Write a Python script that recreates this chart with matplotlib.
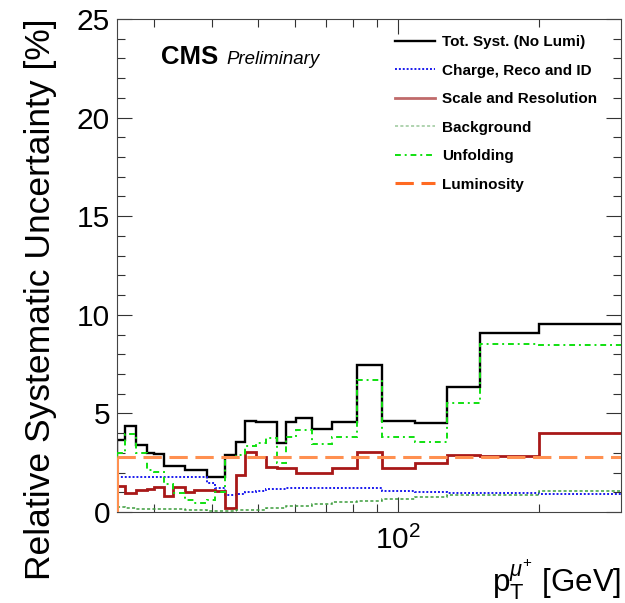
import matplotlib
matplotlib.use("Agg")
import matplotlib.pyplot as plt
from matplotlib.lines import Line2D
from matplotlib.ticker import FixedLocator, MultipleLocator, NullFormatter, FixedFormatter

plt.rcParams['font.family'] = ['Liberation Sans', 'DejaVu Sans']
plt.rcParams['mathtext.fontset'] = 'custom'
plt.rcParams['mathtext.rm'] = 'Liberation Sans'
plt.rcParams['mathtext.it'] = 'Liberation Sans:italic'
plt.rcParams['mathtext.bf'] = 'Liberation Sans:bold'

# Muon pT bin edges [GeV]
pt_edges = [25, 26, 27.5, 29, 30, 31.5, 33, 35, 36.5, 39, 40.5, 42.5, 45, 47,
            49.5, 52, 55, 57.5, 60.5, 65.5, 72, 81.5, 92.5, 108.5, 127, 150,
            200, 300]

# Relative systematic uncertainties per bin [%]
tot_syst = [3.65, 4.38, 3.40, 2.97, 2.95, 2.33, 2.33, 2.13, 2.13, 1.80, 1.80,
            2.89, 3.57, 4.63, 4.55, 4.55, 3.51, 4.55, 4.75, 4.19, 4.58, 7.45,
            4.61, 4.53, 6.35, 9.06, 9.52]
charge_reco_id = [1.75, 1.75, 1.75, 1.75, 1.75, 1.75, 1.75, 1.75, 1.75, 1.45,
                  1.20, 0.85, 0.90, 1.00, 1.08, 1.15, 1.18, 1.20, 1.22, 1.22,
                  1.22, 1.20, 1.08, 1.03, 0.98, 0.95, 0.90]
scale_resolution = [1.32, 0.98, 1.10, 1.15, 1.28, 0.80, 1.25, 1.03, 1.12, 1.12,
                    1.05, 0.22, 1.90, 3.06, 2.77, 2.27, 2.21, 2.21, 2.00, 2.00,
                    2.25, 3.03, 2.22, 2.47, 2.89, 2.84, 4.00]
background = [0.24, 0.22, 0.16, 0.14, 0.14, 0.14, 0.14, 0.12, 0.10, 0.07, 0.07,
              0.07, 0.08, 0.10, 0.12, 0.18, 0.20, 0.28, 0.30, 0.40, 0.50, 0.58,
              0.66, 0.78, 0.86, 0.86, 1.05]
unfolding = [3.00, 3.95, 3.00, 2.13, 2.05, 1.40, 0.95, 0.60, 0.45, 0.60, 1.03,
             2.80, 2.90, 3.35, 3.50, 3.75, 2.46, 3.80, 4.15, 3.47, 3.80, 6.70,
             3.82, 3.57, 5.55, 8.50, 8.47]
luminosity = [2.8] * (len(pt_edges) - 1)

labels = ["Tot. Syst. (No Lumi)", "Charge, Reco and ID", "Scale and Resolution",
          "Background", "Unfolding", "Luminosity"]

fig = plt.figure(figsize=(6.25, 6.03), dpi=100)
ax = fig.add_axes([117 / 625, (603 - 512) / 603, 504 / 625, 493 / 603])

styles = [
    dict(color='black', lw=1.7, ls='-'),
    dict(color='#1a1aee', lw=1.4, ls=(0, (1, 1))),
    dict(color='#a81818', lw=2.0, ls='-'),
    dict(color='#3c9c3c', lw=1.1, ls=(0, (2, 1.5))),
    dict(color='#10e010', lw=1.4, ls=(0, (3, 2, 1, 2))),
    dict(color='#ff9050', lw=2.2, ls=(0, (6, 2.5))),
]
series = [tot_syst, charge_reco_id, scale_resolution, background, unfolding, luminosity]

for i, (vals, st) in enumerate(zip(series, styles)):
    ax.stairs(vals, pt_edges, baseline=None, color=st['color'], lw=st['lw'],
              linestyle=st['ls'], zorder=2 + i)
    # opening edge of the histogram, down to zero
    ax.vlines(pt_edges[0], 0, vals[0], color=st['color'], lw=st['lw'],
              zorder=2 + i)

ax.set_xscale('log')
ax.set_xlim(25, 300)
ax.set_ylim(0, 25)

ax.xaxis.set_major_locator(FixedLocator([100]))
ax.xaxis.set_major_formatter(FixedFormatter([r'$10^{2}$']))
ax.xaxis.set_minor_locator(FixedLocator([30, 40, 50, 60, 70, 80, 90, 200]))
ax.xaxis.set_minor_formatter(NullFormatter())
ax.yaxis.set_major_locator(MultipleLocator(5))
ax.yaxis.set_minor_locator(MultipleLocator(1))

ax.tick_params(which='both', direction='in', top=True, right=True,
               colors='#333333', labelcolor='black', width=0.8)
ax.tick_params(which='major', length=10.5, labelsize=21.5, pad=5)
ax.tick_params(axis='x', which='major', pad=10)
ax.tick_params(which='minor', length=5.5)
for sp in ax.spines.values():
    sp.set_color('#444444')
    sp.set_linewidth(0.8)

ax.set_ylabel('Relative Systematic Uncertainty [%]', fontsize=25.5, loc='top')
ax.yaxis.set_label_coords(-0.12, 1.0)
ax.set_xlabel(r'$\mathrm{p}_{\mathrm{T}}^{\mu^{+}}$ [GeV]', fontsize=22.5, loc='right')
ax.xaxis.set_label_coords(1.0, -0.092)

ax.text(0.087, 0.908, 'CMS', transform=ax.transAxes, fontsize=18.5,
        fontweight='bold', va='baseline', ha='left')
ax.text(0.218, 0.908, 'Preliminary', transform=ax.transAxes, fontsize=13.4,
        fontstyle='italic', va='baseline', ha='left')

legend_colors = ['black', '#1a1aee', '#c06a6a', '#9ac89a', '#10e010', '#ff6a22']
handles = [Line2D([], [], color=c, lw=st['lw'], linestyle=st['ls'])
           for c, st in zip(legend_colors, styles)]
leg = ax.legend(handles, labels, loc='upper left',
                bbox_to_anchor=(395 / 625, (603 - 35) / 603),
                bbox_transform=fig.transFigure, frameon=False, borderpad=0,
                borderaxespad=0, handlelength=2.6, handletextpad=0.5,
                labelspacing=0.95, prop={'weight': 'bold', 'size': 11})

fig.savefig('out.png', dpi=100)
